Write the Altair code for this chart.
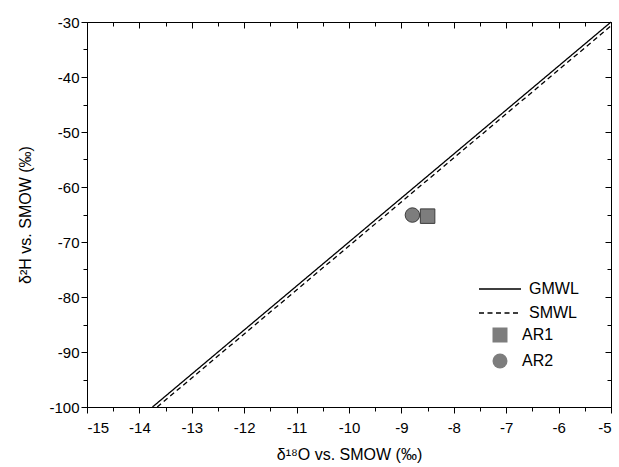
import altair as alt
import pandas as pd

# ---- data ----
line_names = ["GMWL", "GMWL", "SMWL", "SMWL"]
line_x = [-13.75, -5.0, -13.66, -5.0]
line_y = [-100.0, -30.0, -100.0, -30.7]

sample_names = ["AR1", "AR2"]
sample_x = [-8.50, -8.79]
sample_y = [-65.3, -65.1]

x_major = [-15, -14, -13, -12, -11, -10, -9, -8, -7, -6, -5]
x_minor = [-14.5, -13.5, -12.5, -11.5, -10.5, -9.5, -8.5, -7.5, -6.5, -5.5]
y_major = [-100, -90, -80, -70, -60, -50, -40, -30]
y_minor = [-95, -85, -75, -65, -55, -45, -35]

W, H = 524, 385
FONT = "Liberation Sans"
LABEL_EXPR = "'' + datum.value"

lines = pd.DataFrame({"series": line_names, "x": line_x, "y": line_y})
samples = pd.DataFrame({"series": sample_names, "x": sample_x, "y": sample_y})

xs = alt.Scale(domain=[-15, -5], nice=False, zero=False)
ys = alt.Scale(domain=[-100, -30], nice=False, zero=False)

common = dict(grid=False, tickColor="black", domainColor="black", labelColor="black",
              labelFont=FONT, titleFont=FONT, titleColor="black", tickWidth=1)

x_main = alt.Axis(orient="bottom", values=x_major, tickSize=6, labelPadding=7, labelFontSize=15,
                  labelExpr=LABEL_EXPR,
                  title="δ¹⁸O vs. SMOW (‰)", titleFontSize=16, titleFontWeight="normal",
                  titlePadding=11, **common)
y_main = alt.Axis(orient="left", values=y_major, tickSize=6, labelPadding=2, labelFontSize=15,
                  labelExpr=LABEL_EXPR,
                  title="δ²H vs. SMOW (‰)", titleFontSize=16, titleFontWeight="normal",
                  titlePadding=15, **common)

x_minor_out = alt.Axis(orient="bottom", values=x_minor, tickSize=4, labels=False, domain=False,
                       title=None, **common)
y_minor_out = alt.Axis(orient="left", values=y_minor, tickSize=4, labels=False, domain=False,
                       title=None, **common)

x_major_in = alt.Axis(orient="bottom", offset=-H, values=x_major, tickSize=6, labels=False,
                      domain=False, title=None, **common)
y_major_in = alt.Axis(orient="left", offset=-W, values=y_major, tickSize=6, labels=False,
                      domain=False, title=None, **common)
x_minor_in = alt.Axis(orient="bottom", offset=-H, values=x_minor, tickSize=4, labels=False,
                      domain=False, title=None, **common)
y_minor_in = alt.Axis(orient="left", offset=-W, values=y_minor, tickSize=4, labels=False,
                      domain=False, title=None, **common)

line_layer = alt.Chart(lines).mark_line(color="black", strokeWidth=1.3).encode(
    x=alt.X("x:Q", scale=xs, axis=x_main),
    y=alt.Y("y:Q", scale=ys, axis=y_main),
    detail="series:N",
    strokeDash=alt.StrokeDash(
        "series:N",
        scale=alt.Scale(domain=["GMWL", "SMWL"], range=[[1, 0], [5, 3.5]]),
        legend=alt.Legend(orient="none", legendX=405, legendY=259, title=None,
                          symbolType="M-3,0H3", symbolSize=196, symbolStrokeWidth=1.3,
                          symbolStrokeColor="black", labelFont=FONT, labelFontSize=16,
                          labelColor="black", labelOffset=21, rowPadding=8),
    ),
)

point_layer = alt.Chart(samples).mark_point(
    filled=True, fill="#7d7d7d", stroke="#3c3c3c", strokeWidth=1, opacity=1, size=210
).encode(
    x=alt.X("x:Q", scale=xs, axis=x_minor_out),
    y=alt.Y("y:Q", scale=ys, axis=y_minor_out),
    shape=alt.Shape(
        "series:N",
        scale=alt.Scale(domain=["AR1", "AR2"], range=["square", "circle"]),
        legend=alt.Legend(orient="none", legendX=405, legendY=305, title=None,
                          symbolSize=225, symbolFillColor="#7d7d7d", symbolStrokeColor="#3c3c3c",
                          symbolStrokeWidth=1, symbolOpacity=1, labelFont=FONT, labelFontSize=16,
                          labelColor="black", labelOffset=14, rowPadding=6),
    ),
)

dummy_major = alt.Chart(samples).mark_point(opacity=0).encode(
    x=alt.X("x:Q", scale=xs, axis=x_major_in),
    y=alt.Y("y:Q", scale=ys, axis=y_major_in),
)
dummy_minor = alt.Chart(samples).mark_point(opacity=0).encode(
    x=alt.X("x:Q", scale=xs, axis=x_minor_in),
    y=alt.Y("y:Q", scale=ys, axis=y_minor_in),
)

chart = alt.layer(line_layer, point_layer, dummy_major, dummy_minor).resolve_axis(
    x="independent", y="independent"
).properties(
    width=W, height=H,
    autosize=alt.AutoSizeParams(type="none"),
    padding={"left": 87, "top": 22, "right": 8, "bottom": 60},
    background="white",
).configure_view(stroke="black", strokeWidth=1)

chart.save("out.html", embed_options={"renderer": "svg", "actions": False})
